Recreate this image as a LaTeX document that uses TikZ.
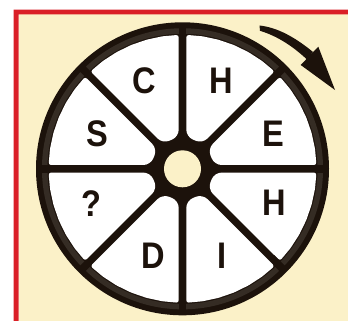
\documentclass[tikz,border=0pt]{standalone}
\usepackage{fontspec}
\setmainfont{Liberation Sans}
\definecolor{wheelblack}{HTML}{1C120B}
\definecolor{rimgray}{HTML}{352C24}
\definecolor{creamfill}{HTML}{FBF1C8}
\definecolor{borderred}{HTML}{DA1F26}
\newcommand{\narrowletter}[1]{\scalebox{0.88}[1]{#1}}
\tikzset{
  letter/.style={inner sep=0pt, text=wheelblack, font=\fontsize{37}{37}\bfseries\selectfont},
  segment/.style={fill=white, draw=none},
}
\begin{document}
\begin{tikzpicture}[x=1pt,y=-1pt]
\useasboundingbox (0,0) rectangle (348,321);
\fill[white] (0,0) rectangle (348,321);
% cream panel and red border
\fill[creamfill] (18.5,14.3) rectangle (348,321);
\fill[borderred] (13.5,321) -- (13.5,9.6) -- (348,9.6) -- (348,14.3) -- (18.5,14.3) -- (18.5,321) -- cycle;
% wheel
\coordinate (c) at (182.5,168.8);
\fill[wheelblack] (c) circle[radius=146.5];
\draw[rimgray, line width=5.5pt] (c) circle[radius=137.8];
\foreach \k in {0,...,7}{
  \begin{scope}[shift={(c)}, rotate=\k*45]
    \draw[wheelblack, line width=7.6pt] (0:126) -- (0:142);
    \fill[segment, rounded corners=7pt] (6.78:32.2) [rounded corners=2.5pt] -- (1.63:134)
      [rounded corners=1pt] -- (8.6:134) -- (15.55:134) -- (22.5:134) -- (29.45:134) -- (36.4:134)
      [rounded corners=2.5pt] -- (43.37:134)
      [rounded corners=7pt] -- (38.22:32.2) -- cycle;
  \end{scope}
}
\fill[creamfill] (c) circle[radius=18.5];
% letters
\node[letter] (lc) at (144,81) {\narrowletter{C}};
\node[letter] (lh1) at (221.3,81) {\narrowletter{H}};
\node[letter] (ls) at (97,134) {\narrowletter{S}};
\node[letter] (le) at (273,133.5) {\narrowletter{E}};
\node[letter] (lq) at (91.5,204) {\narrowletter{?}};
\node[letter] (lh2) at (274,203) {\narrowletter{H}};
\node[letter] (ld) at (153,256) {\narrowletter{D}};
\node[letter] (li) at (222,256) {\narrowletter{I}};
% rotation arrow
\fill[wheelblack] (259.5,25.5) .. controls (278,27.5) and (296,38) .. (313,52)
  -- (307,59.5) .. controls (292,45.5) and (277,36) .. (260,30.8) -- cycle;
\coordinate (hb1) at (300.7,65);
\coordinate (hb2) at (318.3,46.7);
\coordinate (ht) at (335,90);
\fill[wheelblack] (hb1) -- (hb2) -- (ht) -- cycle;
\end{tikzpicture}
\end{document}
